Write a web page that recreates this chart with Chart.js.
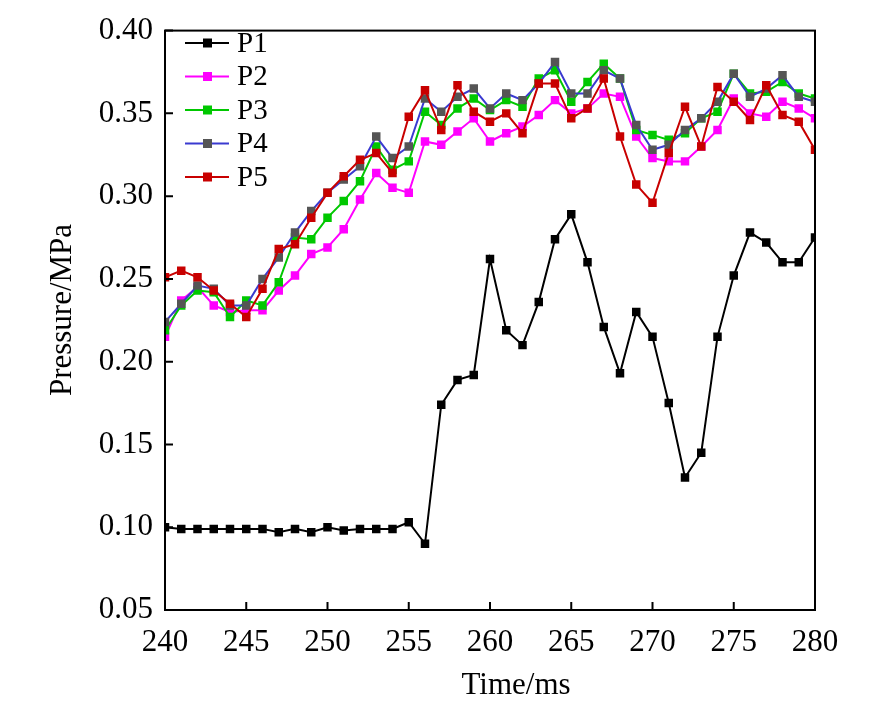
<!DOCTYPE html>
<html>
<head>
<meta charset="utf-8">
<script src="https://cdn.jsdelivr.net/npm/chart.js@4/dist/chart.umd.min.js"></script>
<style>
  html, body { margin: 0; padding: 0; background: #fff; }
  #wrap { width: 886px; height: 707px; }
</style>
</head>
<body>
<div id="wrap"><canvas id="chart" width="886" height="707"></canvas></div>
<script>
const times = [240,241,242,243,244,245,246,247,248,249,250,251,252,253,254,255,256,257,258,259,260,
               261,262,263,264,265,266,267,268,269,270,271,272,273,274,275,276,277,278,279,280];

const p1 = [0.100,0.099,0.099,0.099,0.099,0.099,0.099,0.097,0.099,0.097,0.100,0.098,0.099,0.099,0.099,0.103,0.090,0.174,0.189,0.192,0.262,
            0.219,0.210,0.236,0.274,0.289,0.260,0.221,0.193,0.230,0.215,0.175,0.130,0.145,0.215,0.252,0.278,0.272,0.260,0.260,0.275];
const p2 = [0.215,0.237,0.245,0.234,0.230,0.231,0.231,0.243,0.252,0.265,0.269,0.280,0.298,0.314,0.305,0.302,0.333,0.331,0.339,0.347,0.333,
            0.338,0.342,0.349,0.358,0.350,0.353,0.362,0.360,0.336,0.323,0.321,0.321,0.330,0.340,0.359,0.350,0.348,0.357,0.353,0.347];
const p3 = [0.219,0.234,0.243,0.242,0.227,0.237,0.234,0.248,0.275,0.274,0.287,0.297,0.309,0.330,0.316,0.321,0.351,0.343,0.353,0.359,0.352,
            0.358,0.354,0.371,0.376,0.357,0.369,0.380,0.371,0.340,0.337,0.334,0.338,0.347,0.351,0.374,0.362,0.363,0.369,0.362,0.359];
const p4 = [0.224,0.235,0.246,0.244,0.234,0.234,0.250,0.263,0.278,0.291,0.302,0.310,0.318,0.336,0.323,0.330,0.359,0.351,0.360,0.365,0.353,
            0.362,0.358,0.368,0.381,0.362,0.362,0.376,0.371,0.343,0.328,0.331,0.340,0.347,0.357,0.374,0.360,0.365,0.373,0.360,0.357];
const p5 = [0.251,0.255,0.251,0.243,0.235,0.227,0.244,0.268,0.271,0.287,0.302,0.312,0.322,0.326,0.314,0.348,0.364,0.340,0.367,0.351,0.345,
            0.350,0.338,0.368,0.368,0.347,0.353,0.371,0.336,0.307,0.296,0.326,0.354,0.330,0.366,0.357,0.346,0.367,0.349,0.345,0.328];

const seriesNames = ['P1', 'P2', 'P3', 'P4', 'P5'];
const xTicks = [240, 245, 250, 255, 260, 265, 270, 275, 280];
const yTicks = [0.05, 0.10, 0.15, 0.20, 0.25, 0.30, 0.35, 0.40];

const FONT = "'Liberation Serif', 'Times New Roman', serif";
const lineColors = ['#000000', '#ff00ff', '#00c800', '#3a3ad0', '#c80000'];
const markColors = ['#000000', '#ff00ff', '#00c800', '#555555', '#c80000'];

function series(vals) { return times.map((t, i) => ({ x: t, y: vals[i] })); }

const datasets = [p1, p2, p3, p4, p5].map((vals, i) => ({
  label: seriesNames[i],
  data: series(vals),
  borderColor: lineColors[i],
  backgroundColor: markColors[i],
  pointBackgroundColor: markColors[i],
  pointBorderColor: markColors[i],
  pointBorderWidth: 0,
  pointStyle: 'rect',
  pointRadius: 6,
  borderWidth: 2,
  tension: 0,
  order: 5 - i
}));

// frame, inside ticks, legend and axis titles
const decor = {
  id: 'decor',
  afterDraw(chart) {
    const c = chart.ctx, a = chart.chartArea;
    const xs = chart.scales.x, ys = chart.scales.y;
    c.save();
    c.strokeStyle = '#000';
    c.lineWidth = 2;
    c.strokeRect(a.left, a.top, a.right - a.left, a.bottom - a.top);
    c.beginPath();
    xTicks.forEach(t => { const px = xs.getPixelForValue(t); c.moveTo(px, a.bottom); c.lineTo(px, a.bottom - 8); });
    yTicks.forEach(t => { const py = ys.getPixelForValue(t); c.moveTo(a.left, py); c.lineTo(a.left + 8, py); });
    c.stroke();

    // legend
    c.font = '29px ' + FONT;
    c.textBaseline = 'middle';
    c.textAlign = 'left';
    seriesNames.forEach((name, i) => {
      const y = 43 + i * 33.5;
      c.strokeStyle = lineColors[i];
      c.lineWidth = 2;
      c.beginPath(); c.moveTo(185, y); c.lineTo(229, y); c.stroke();
      c.fillStyle = markColors[i];
      c.fillRect(203, y - 4.5, 9, 9);
      c.fillStyle = '#000';
      c.fillText(name, 237, y + 1);
    });

    // axis titles
    c.font = '31px ' + FONT;
    c.fillStyle = '#000';
    c.textAlign = 'center';
    c.textBaseline = 'middle';
    c.fillText('Time/ms', 516, 686);
    c.translate(63, 310);
    c.rotate(-Math.PI / 2);
    c.fillText('Pressure/MPa', 0, 0);
    c.restore();
  }
};

new Chart(document.getElementById('chart'), {
  type: 'line',
  data: { datasets },
  options: {
    responsive: false,
    animation: false,
    layout: { padding: { top: 17, right: 71, left: 0, bottom: 0 } },
    plugins: { legend: { display: false }, tooltip: { enabled: false } },
    scales: {
      x: {
        type: 'linear', min: 240, max: 280,
        afterBuildTicks: s => { s.ticks = xTicks.map(v => ({ value: v })); },
        afterFit: s => { s.height = 97; },
        grid: { display: false, drawTicks: false },
        border: { display: false },
        ticks: { color: '#000', font: { family: FONT, size: 31 }, padding: 14, maxRotation: 0 }
      },
      y: {
        type: 'linear', min: 0.05, max: 0.40,
        afterBuildTicks: s => { s.ticks = yTicks.map(v => ({ value: v })); },
        afterFit: s => { s.width = 165; },
        grid: { display: false, drawTicks: false },
        border: { display: false },
        ticks: { color: '#000', font: { family: FONT, size: 31 }, padding: 12, callback: v => Number(v).toFixed(2) }
      }
    }
  },
  plugins: [decor]
});
</script>
</body>
</html>
